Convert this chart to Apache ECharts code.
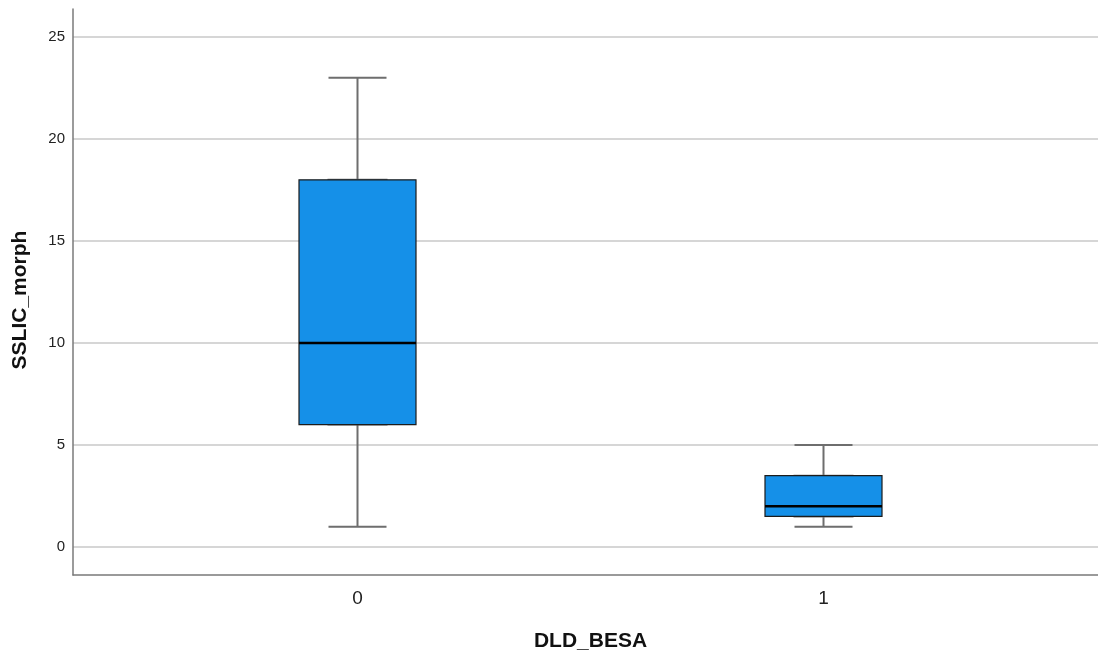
<!DOCTYPE html>
<html>
<head>
<meta charset="utf-8">
<script src="https://cdn.jsdelivr.net/npm/echarts@6/dist/echarts.min.js"></script>
<style>
html, body { margin: 0; padding: 0; background: #fff; }
#chart { width: 1098px; height: 652px; }
</style>
</head>
<body>
<div id="chart"></div>
<script>
// groups on x axis
var categories = ['0', '1'];
// [min, Q1, median, Q3, max] per group
var boxValues = [
	[1, 6, 10, 18, 23],
	[1, 1.5, 2, 3.5, 5]
];
var yMin = -1.37;
var yMax = 26.37;

var chart = echarts.init(document.getElementById('chart'));

// box body only: whiskers collapsed onto Q1/Q3
var bodyData = boxValues.map(function (v) { return [v[1], v[1], v[2], v[3], v[3]]; });
var medianData = boxValues.map(function (v) { return [v[2], v[2], v[2], v[2], v[2]]; });

var fontFamily = 'Arial, "Liberation Sans", sans-serif';

function hiddenX(idx) {
	return {
		type: 'category',
		gridIndex: 1,
		position: 'bottom',
		data: categories,
		show: idx === 0,
		axisLine: { show: false, onZero: false },
		axisTick: { show: false },
		axisLabel: { color: '#222', fontSize: 19, margin: 14, fontFamily: fontFamily },
		splitLine: { show: false }
	};
}

var option = {
	animation: false,
	grid: [
		{ left: 73, right: 0, top: 9, bottom: 77, outerBoundsMode: 'none', containLabel: false },
		{ left: 124.5, right: 41.5, top: 9, bottom: 77, outerBoundsMode: 'none', containLabel: false }
	],
	xAxis: [
		{
			type: 'value',
			gridIndex: 0,
			min: 0,
			max: 1,
			axisLine: { show: true, onZero: false, lineStyle: { color: '#7a7a7a', width: 1.5 } },
			axisTick: { show: false },
			axisLabel: { show: false },
			splitLine: { show: false },
			name: 'DLD_BESA',
			nameLocation: 'middle',
			nameGap: 56,
			nameTextStyle: { color: '#111', fontSize: 21, fontWeight: 'bold', fontFamily: fontFamily, padding: [0, 0, 0, 10] }
		},
		hiddenX(0),
		hiddenX(1),
		hiddenX(2)
	],
	yAxis: [
		{
			type: 'value',
			gridIndex: 0,
			min: yMin,
			max: yMax,
			axisLine: { show: true, lineStyle: { color: '#7a7a7a', width: 1.5 } },
			axisTick: { show: false },
			axisLabel: {
				color: '#222', fontSize: 15, margin: 8, fontFamily: fontFamily,
				showMinLabel: false, showMaxLabel: false
			},
			splitLine: {
				show: true,
				showMinLine: false,
				showMaxLine: false,
				lineStyle: { color: '#c8c8c8', width: 1.5 }
			},
			name: 'SSLIC_morph',
			nameLocation: 'middle',
			nameGap: 42,
			nameRotate: 90,
			nameTextStyle: { color: '#111', fontSize: 21, fontWeight: 'bold', fontFamily: fontFamily, padding: [0, 16, 0, 0] }
		},
		{
			type: 'value',
			gridIndex: 1,
			min: yMin,
			max: yMax,
			show: false,
			splitLine: { show: false }
		}
	],
	series: [
		{
			// whiskers
			type: 'boxplot',
			xAxisIndex: 1,
			yAxisIndex: 1,
			boxWidth: [58, 58],
			data: boxValues,
			itemStyle: { color: 'rgba(0,0,0,0)', borderColor: '#6e6e6e', borderWidth: 2 },
			emphasis: { disabled: true }
		},
		{
			// box body
			type: 'boxplot',
			xAxisIndex: 2,
			yAxisIndex: 1,
			boxWidth: [117, 117],
			data: bodyData,
			itemStyle: { color: '#1590e8', borderColor: '#1c1c1c', borderWidth: 1.2 },
			emphasis: { disabled: true }
		},
		{
			// median line
			type: 'boxplot',
			xAxisIndex: 3,
			yAxisIndex: 1,
			boxWidth: [117, 117],
			data: medianData,
			itemStyle: { color: 'rgba(0,0,0,0)', borderColor: '#000', borderWidth: 2.5 },
			emphasis: { disabled: true }
		}
	]
};

chart.setOption(option);
</script>
</body>
</html>
